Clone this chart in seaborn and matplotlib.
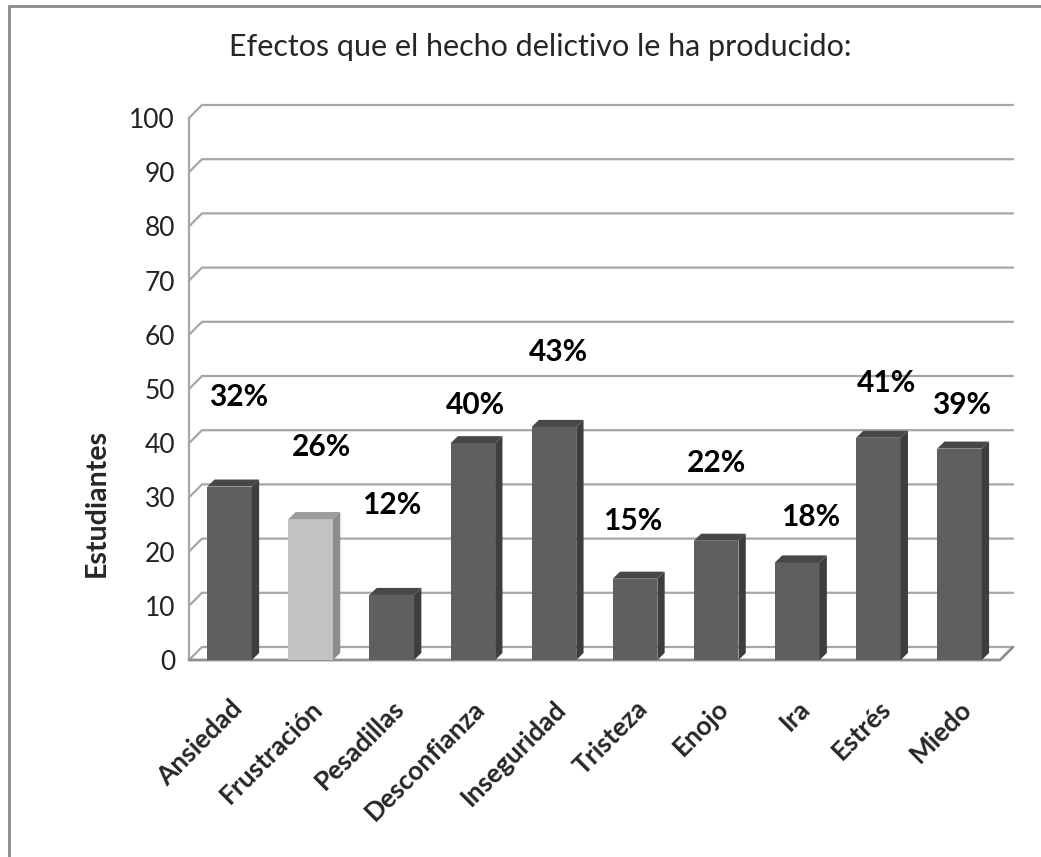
import matplotlib
matplotlib.use("Agg")
import matplotlib.pyplot as plt
import seaborn as sns
import pandas as pd
from matplotlib.patches import Polygon
from matplotlib.lines import Line2D

# --- datos ---
categorias = ["Ansiedad", "Frustración", "Pesadillas", "Desconfianza", "Inseguridad",
              "Tristeza", "Enojo", "Ira", "Estrés", "Miedo"]
porcentajes = [32, 26, 12, 40, 43, 15, 22, 18, 41, 39]
destacado = "Frustración"
y_ticks = [0, 10, 20, 30, 40, 50, 60, 70, 80, 90, 100]

TITULO = "Efectos que el hecho delictivo le ha producido:"
Y_LABEL = "Estudiantes"

# colores (frente, lado, tapa)
OSCURO = ("#5f5f5f", "#3e3e3e", "#474747")
CLARO = ("#c3c3c3", "#8c8c8c", "#9c9c9c")
GRIS_GRID = "#a6a6a6"

sns.set_theme(style="white")
plt.rcParams["font.family"] = ["Lato", "DejaVu Sans"]

df = pd.DataFrame({"categoria": categorias, "valor": porcentajes})
colores = {c: (CLARO[0] if c == destacado else OSCURO[0]) for c in categorias}

fig = plt.figure(figsize=(10.41, 8.57), dpi=100)

# profundidad del "3D" (en unidades de datos)
dx_muro, dy_muro = 0.16, 2.4
dx_barra, dy_barra = 0.09, 1.3

ax = fig.add_axes([189 / 1041, 1 - 660 / 857, (1013 - 189) / 1041, (660 - 105) / 857])
sns.barplot(data=df, x="categoria", y="valor", hue="categoria", palette=colores,
            width=0.55, legend=False, saturation=1, linewidth=0, ax=ax, zorder=3)

n = len(categorias)
x0, x1 = -0.5, n - 0.5
ax.set_xlim(x0, x1 + dx_muro)
ax.set_ylim(0, 100 + dy_muro)
for s in ax.spines.values():
    s.set_visible(False)

# muro del fondo + lineas de cuadricula
for v in y_ticks:
    ax.add_line(Line2D([x0, x0 + dx_muro, x1 + dx_muro], [v, v + dy_muro, v + dy_muro],
                       color=GRIS_GRID, lw=1.6, zorder=1, clip_on=False))
ax.add_line(Line2D([x0, x0], [0, 100], color=GRIS_GRID, lw=1.6, zorder=1, clip_on=False))
# piso
ax.add_line(Line2D([x0, x1, x1 + dx_muro], [0, 0, dy_muro],
                   color="#8f8f8f", lw=2, zorder=2, clip_on=False))

# caras laterales y tapas de las barras
for patch, cat in zip(ax.patches, categorias):
    _, lado, tapa = CLARO if cat == destacado else OSCURO
    bx0 = patch.get_x()
    bx1 = bx0 + patch.get_width()
    h = patch.get_height()
    ax.add_patch(Polygon([(bx1, 0), (bx1 + dx_barra, dy_barra), (bx1 + dx_barra, h + dy_barra), (bx1, h)],
                         closed=True, facecolor=lado, edgecolor="none", zorder=3))
    ax.add_patch(Polygon([(bx0, h), (bx0 + dx_barra, h + dy_barra), (bx1 + dx_barra, h + dy_barra), (bx1, h)],
                         closed=True, facecolor=tapa, edgecolor="none", zorder=3))

# etiquetas de datos (posiciones como en el original de Excel)
etiqueta_dx = [0.11, 0.13, 0.0, 0.03, 0.05, -0.03, 0.0, 0.16, 0.1, 0.02]
etiqueta_dy = [16.5, 13.3, 16.6, 7.0, 13.8, 10.6, 14.3, 8.4, 10.1, 8.0]
for i, (v, ddx, ddy) in enumerate(zip(porcentajes, etiqueta_dx, etiqueta_dy)):
    ax.text(i + ddx, v + ddy, f"{v}%", ha="center", va="center",
            fontsize=21.5, fontweight="bold", color="black", zorder=5)

ax.set_yticks(y_ticks)
ax.set_yticklabels([str(t) for t in y_ticks], fontsize=19, color="#222222")
ax.tick_params(axis="y", length=0, pad=10)
ax.tick_params(axis="x", length=0, pad=26)
ax.set_xticks(range(n))
ax.set_xticklabels(categorias, rotation=45, ha="right", rotation_mode="anchor",
                   fontsize=19, fontweight="bold")
ax.set_xlabel("")
ax.set_ylabel("")

fig.text(97 / 1041, 1 - 503 / 857, Y_LABEL, rotation=90, ha="center", va="center",
         fontsize=20.5, fontweight="bold")
fig.text(540 / 1041, 1 - 47 / 857, TITULO, ha="center", va="center", fontsize=22)

# borde del area del grafico
fig.add_artist(Line2D([9 / 1041, 9 / 1041], [0, 1 - 6 / 857], color="#8a8a8a", lw=2,
                      transform=fig.transFigure))
fig.add_artist(Line2D([9 / 1041, 1], [1 - 6 / 857, 1 - 6 / 857], color="#8a8a8a", lw=2,
                      transform=fig.transFigure))

fig.savefig("out.png", dpi=100, facecolor="white")
